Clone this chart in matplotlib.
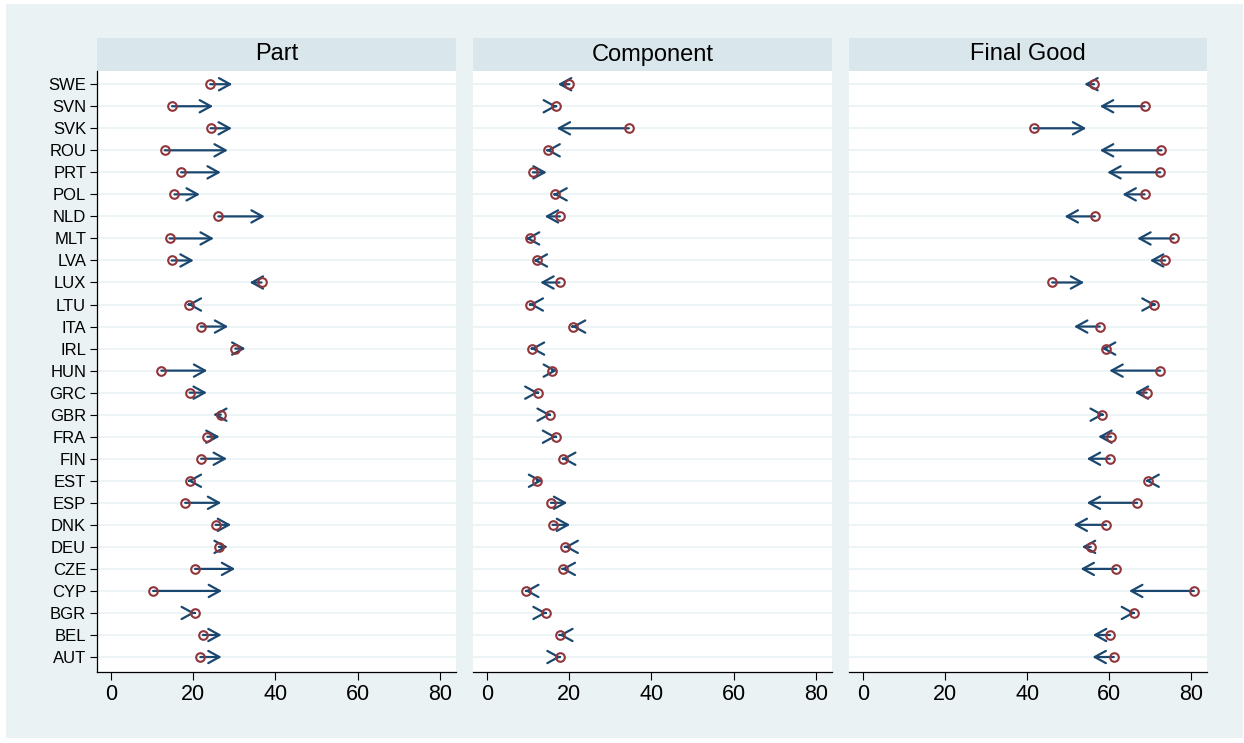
import matplotlib
matplotlib.use("Agg")
import matplotlib.pyplot as plt
from matplotlib.patches import Rectangle

plt.rcParams['font.family'] = ['Liberation Sans', 'DejaVu Sans']

countries = ["AUT", "BEL", "BGR", "CYP", "CZE", "DEU", "DNK", "ESP", "EST", "FIN",
             "FRA", "GBR", "GRC", "HUN", "IRL", "ITA", "LTU", "LUX", "LVA", "MLT",
             "NLD", "POL", "PRT", "ROU", "SVK", "SVN", "SWE"]

part_start = [21.7, 22.3, 20.3, 10.2, 20.4, 26.2, 25.4, 18.0, 19.1, 21.9,
              23.4, 26.7, 19.1, 12.2, 30.2, 21.8, 18.9, 36.6, 14.7, 14.2,
              26.1, 15.4, 17.0, 13.0, 24.2, 14.8, 24.1]
part_end = [26.9, 26.9, 20.4, 27.0, 30.2, 28.4, 29.2, 26.8, 18.6, 28.2,
            26.4, 24.8, 23.3, 23.4, 32.7, 28.5, 18.6, 33.7, 20.1, 25.0,
            37.4, 21.6, 26.7, 28.4, 29.4, 24.8, 29.5]

comp_start = [17.6, 17.7, 14.2, 9.5, 18.4, 19.0, 15.9, 15.5, 12.1, 18.5,
              16.7, 15.2, 12.3, 15.8, 10.9, 20.8, 10.5, 17.6, 12.1, 10.3,
              17.7, 16.4, 11.1, 14.7, 34.5, 16.7, 20.0]
comp_end = [17.9, 17.5, 14.5, 9.2, 18.1, 18.8, 20.2, 19.5, 13.4, 18.2,
            16.8, 15.5, 12.5, 17.0, 10.6, 20.6, 10.3, 12.9, 11.3, 9.4,
            14.0, 16.1, 14.5, 14.4, 16.9, 17.0, 17.2]

final_start = [61.1, 60.2, 65.9, 80.6, 61.7, 55.5, 59.2, 66.8, 69.5, 60.1,
               60.4, 58.3, 69.1, 72.4, 59.3, 57.7, 71.0, 46.1, 73.6, 75.7,
               56.5, 68.6, 72.4, 72.7, 41.6, 68.6, 56.3]
final_end = [55.9, 56.0, 66.3, 64.8, 53.0, 53.3, 51.3, 54.5, 68.8, 54.5,
             57.3, 58.7, 66.2, 60.0, 58.2, 51.4, 71.3, 53.9, 69.9, 66.8,
             49.1, 63.2, 59.5, 57.7, 54.4, 57.7, 53.9]

titles = ["Part", "Component", "Final Good"]
starts = [part_start, comp_start, final_start]
ends = [part_end, comp_end, final_end]
xticks = [0, 20, 40, 60, 80]

navy = "#1a476f"
maroon = "#90353b"
bg = "#eaf2f3"
strip = "#d9e6eb"

W, H = 1244, 743
fig = plt.figure(figsize=(W / 100, H / 100), dpi=100)
fig.patch.set_facecolor("white")
fig.patches.append(Rectangle((6 / W, 1 - 738 / H), (1243 - 6) / W, (738 - 4) / H,
                             transform=fig.transFigure, facecolor=bg,
                             edgecolor="none", zorder=-10))

lefts = [97.3, 473.3, 849.0]
pw = 358.4
bottom_px, top_px = 672, 71
ys = list(range(len(countries)))

for i in range(3):
    ax = fig.add_axes([lefts[i] / W, 1 - bottom_px / H, pw / W, (bottom_px - top_px) / H])
    ax.set_facecolor("white")
    ax.set_xlim(-3.4, 83.9)
    ax.set_ylim(-0.68, 26.6)
    for y in ys:
        ax.axhline(y, color=bg, lw=1.2, zorder=1)
    for y, s, e in zip(ys, starts[i], ends[i]):
        ax.annotate("", xy=(e, y), xytext=(s, y),
                    arrowprops=dict(arrowstyle="->,head_length=0.4,head_width=0.22",
                                    color=navy, lw=1.6, shrinkA=0, shrinkB=0,
                                    mutation_scale=20),
                    zorder=3)
    ax.plot(starts[i], ys, "o", ms=6.2, mfc="none", mec=maroon, mew=1.5, zorder=4)

    ax.set_xticks(xticks)
    ax.tick_params(axis="x", labelsize=15.5, length=6, width=0.8, pad=2.5)
    for sp in ["top", "right"]:
        ax.spines[sp].set_visible(False)
    ax.spines["bottom"].set_linewidth(0.9)
    if i == 0:
        ax.set_yticks(ys)
        ax.set_yticklabels(countries)
        ax.tick_params(axis="y", labelsize=12, length=5, width=0.8, pad=3)
        ax.spines["left"].set_linewidth(0.9)
    else:
        ax.set_yticks([])
        ax.spines["left"].set_visible(False)

    sh = 33 / (bottom_px - top_px)
    ax.add_patch(Rectangle((0, 1), 1, sh, transform=ax.transAxes, facecolor=strip,
                           edgecolor="none", clip_on=False))
    ax.text(0.5, 1 + sh / 2, titles[i], transform=ax.transAxes, ha="center",
            va="center", fontsize=17)

fig.savefig("out.png", dpi=100)
